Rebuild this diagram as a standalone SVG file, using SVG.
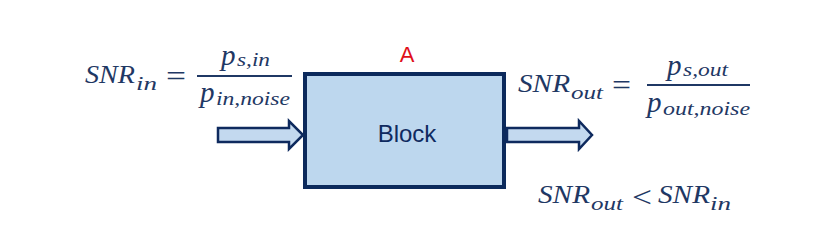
<svg xmlns="http://www.w3.org/2000/svg" width="814" height="241" viewBox="0 0 814 241">
<style>
.m{font-family:"Liberation Serif","DejaVu Serif",serif;font-style:italic;fill:#1f3864}
.big{font-size:26px}
.p{font-size:29px}
.sub{font-size:19px}
.op{font-family:"Liberation Serif","DejaVu Serif",serif;font-style:normal;fill:#1f3864;font-size:30px}
.arrow{fill:#c3d9ef;stroke:#0e2a5e;stroke-width:2.5;stroke-linejoin:miter}
.frac{stroke:#1f3864;stroke-width:2}
</style>
<rect width="814" height="241" fill="#ffffff"/>
<g id="block">
<rect x="305" y="74" width="199" height="113" fill="#bdd7ee" stroke="#0c2a5c" stroke-width="4"/>
<text x="407" y="142" text-anchor="middle" font-family="Liberation Sans, Arial, sans-serif" font-size="24" fill="#0f2a5f">Block</text>
<text x="407" y="62" text-anchor="middle" font-family="Liberation Sans, Arial, sans-serif" font-size="22" fill="#e0101a">A</text>
</g>
<g id="connectors">
<path class="arrow" d="M218,128 H289 V121 L303,135 L289,149 V142 H218 Z"/>
<path class="arrow" d="M507,128 H579 V121 L592,135 L579,149 V142 H507 Z"/>
</g>
<g id="snr-in">
<text class="m big" x="85" y="83" textLength="50" lengthAdjust="spacingAndGlyphs">SNR</text>
<text class="m sub" x="136" y="90" textLength="21" lengthAdjust="spacingAndGlyphs">in</text>
<text class="op" x="166" y="86" textLength="20" lengthAdjust="spacingAndGlyphs">=</text>
<text class="m p" x="221" y="65">p</text>
<text class="m sub" x="237" y="66" textLength="33" lengthAdjust="spacingAndGlyphs">s,in</text>
<line class="frac" x1="197" y1="76" x2="292" y2="76"/>
<text class="m p" x="200" y="102">p</text>
<text class="m sub" x="216" y="105" textLength="74" lengthAdjust="spacingAndGlyphs">in,noise</text>
</g>
<g id="snr-out">
<text class="m big" x="518" y="92" textLength="52" lengthAdjust="spacingAndGlyphs">SNR</text>
<text class="m sub" x="571" y="99" textLength="32" lengthAdjust="spacingAndGlyphs">out</text>
<text class="op" x="612" y="95" textLength="19" lengthAdjust="spacingAndGlyphs">=</text>
<text class="m p" x="667" y="75">p</text>
<text class="m sub" x="683" y="76" textLength="45" lengthAdjust="spacingAndGlyphs">s,out</text>
<line class="frac" x1="647" y1="85" x2="750" y2="85"/>
<text class="m p" x="647" y="112">p</text>
<text class="m sub" x="663" y="115" textLength="87" lengthAdjust="spacingAndGlyphs">out,noise</text>
</g>
<g id="inequality">
<text class="m big" x="538" y="203" textLength="52" lengthAdjust="spacingAndGlyphs">SNR</text>
<text class="m sub" x="591" y="210" textLength="32" lengthAdjust="spacingAndGlyphs">out</text>
<text class="op" x="632" y="207" textLength="20" lengthAdjust="spacingAndGlyphs">&lt;</text>
<text class="m big" x="658" y="203" textLength="52" lengthAdjust="spacingAndGlyphs">SNR</text>
<text class="m sub" x="710" y="210" textLength="21" lengthAdjust="spacingAndGlyphs">in</text>
</g>
</svg>
